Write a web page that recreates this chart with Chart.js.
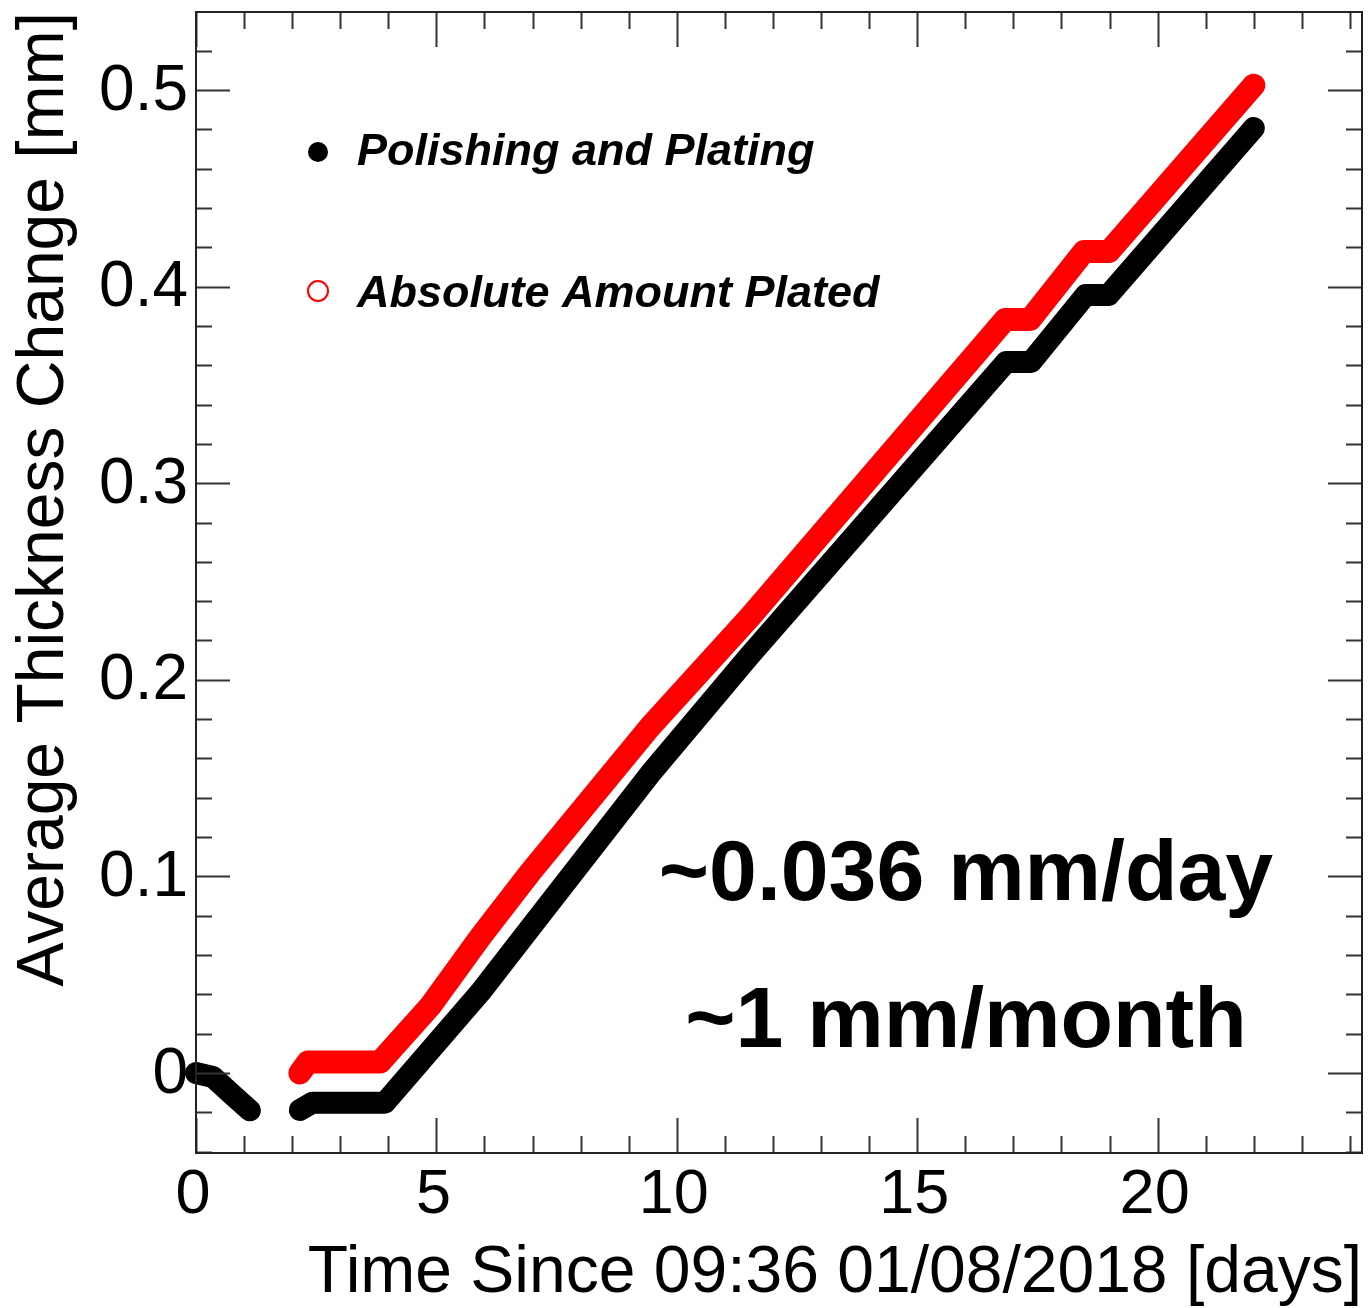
<!DOCTYPE html>
<html>
<head>
<meta charset="utf-8">
<title>Average Thickness Change</title>
<script src="https://cdn.jsdelivr.net/npm/chart.js@4.4.1/dist/chart.umd.min.js"></script>
<style>
  html, body { margin: 0; padding: 0; background: #fff; }
  #wrap { width: 1369px; height: 1308px; position: relative; }
</style>
</head>
<body>
<div id="wrap"><canvas id="plot"></canvas></div>
<script>
// Thickness change vs time

// Polishing and Plating (black, filled markers); null = gap in data
const blackDays   = [0, 0.35, 0.8, 1.12, 1.6, 2.16, 2.42, 3.93, 5.91, 6.95, 9.44, 11.52, 16.85, 17.37, 18.5, 18.98, 22.0];
const blackChange = [0, -0.002, -0.012, -0.019, null, -0.0188, -0.0151, -0.0151, 0.041, 0.0738, 0.152, 0.2125, 0.3617, 0.3617, 0.3957, 0.3957, 0.4807];

// Absolute Amount Plated (red, open markers)
const redDays   = [2.16, 2.33, 3.83, 4.87, 5.91, 6.95, 9.44, 11.52, 16.83, 17.35, 18.47, 18.99, 22.0];
const redChange = [0.0, 0.0056, 0.0056, 0.034, 0.069, 0.102, 0.176, 0.232, 0.3833, 0.3833, 0.4179, 0.4179, 0.5025];

const seriesNames = ['Polishing and Plating', 'Absolute Amount Plated'];

// Axes
const xTickValues = [0, 5, 10, 15, 20];
const xTickLabels = ['0', '5', '10', '15', '20'];
const yTickValues = [0, 0.1, 0.2, 0.3, 0.4, 0.5];
const yTickLabels = ['0', '0.1', '0.2', '0.3', '0.4', '0.5'];
const xTitle = 'Time Since 09:36 01/08/2018 [days]';
const yTitle = 'Average Thickness Change [mm]';

const rateLabels = ['~0.036 mm/day', '~1 mm/month'];

const FONT = "'Liberation Sans', Arial, Helvetica, sans-serif";

function toPoints(xs, ys) {
  return xs.map((v, i) => ({ x: v, y: ys[i] }));
}

// Draws the ROOT-style frame, inward ticks, labels, legend and the rate text
const rootFrame = {
  id: 'rootFrame',
  afterDatasetsDraw(chart) {
    const { ctx, chartArea: a, scales: { x, y } } = chart;
    ctx.save();

    // ticks on all four sides
    ctx.strokeStyle = '#333';
    ctx.lineWidth = 2;
    ctx.beginPath();
    for (let d = 0; d <= Math.floor(x.max); d++) {
      const px = Math.round(x.getPixelForValue(d)) + 0.5;
      const len = d % 5 === 0 ? 35 : 17;
      ctx.moveTo(px, a.bottom); ctx.lineTo(px, a.bottom - len);
      ctx.moveTo(px, a.top); ctx.lineTo(px, a.top + len);
    }
    for (let i = -2; i <= 27; i++) {
      const v = i * 0.02;
      if (v < y.min || v > y.max) continue;
      const py = Math.round(y.getPixelForValue(v)) + 0.5;
      const len = i % 5 === 0 ? 34 : 16;
      ctx.moveTo(a.left, py); ctx.lineTo(a.left + len, py);
      ctx.moveTo(a.right, py); ctx.lineTo(a.right - len, py);
    }
    ctx.stroke();

    // frame
    ctx.strokeStyle = '#222';
    ctx.strokeRect(a.left, a.top, a.right - a.left, a.bottom - a.top);

    // tick labels
    ctx.fillStyle = '#000';
    ctx.font = '63px ' + FONT;
    ctx.textAlign = 'center';
    ctx.textBaseline = 'alphabetic';
    xTickValues.forEach((v, i) => {
      ctx.fillText(xTickLabels[i], x.getPixelForValue(v) - 3, 1213);
    });
    ctx.font = '64px ' + FONT;
    ctx.textAlign = 'right';
    ctx.textBaseline = 'middle';
    yTickValues.forEach((v, i) => {
      ctx.fillText(yTickLabels[i], 188, y.getPixelForValue(v) + 2);
    });

    // axis titles
    ctx.font = '66px ' + FONT;
    ctx.textAlign = 'right';
    ctx.textBaseline = 'alphabetic';
    ctx.fillText(xTitle, 1362, 1292);
    ctx.save();
    ctx.translate(63, 12);
    ctx.rotate(-Math.PI / 2);
    ctx.fillText(yTitle, 0, 0);
    ctx.restore();

    // legend
    ctx.beginPath();
    ctx.arc(318, 152, 10, 0, Math.PI * 2);
    ctx.fillStyle = '#000';
    ctx.fill();
    ctx.beginPath();
    ctx.arc(318, 291, 10, 0, Math.PI * 2);
    ctx.strokeStyle = '#f00';
    ctx.lineWidth = 2;
    ctx.stroke();
    ctx.fillStyle = '#000';
    ctx.font = 'italic bold 45px ' + FONT;
    ctx.textAlign = 'left';
    ctx.fillText(seriesNames[0], 357, 165);
    ctx.fillText(seriesNames[1], 357, 307);

    // rate annotation
    ctx.font = 'bold 86px ' + FONT;
    ctx.textAlign = 'center';
    ctx.fillText(rateLabels[0], 966, 900);
    ctx.fillText(rateLabels[1], 966, 1047);

    ctx.restore();
  }
};

const lineStyle = {
  borderCapStyle: 'round',
  borderJoinStyle: 'round',
  pointRadius: 0,
  tension: 0,
  clip: false,
  spanGaps: false,
};

const chart = new Chart(document.getElementById('plot'), {
  type: 'line',
  data: {
    datasets: [
      {
        ...lineStyle,
        label: seriesNames[0],
        data: toPoints(blackDays, blackChange),
        borderColor: '#000',
        borderWidth: 22,
        order: 3,
      },
      {
        // thin white rim round the red markers, as in the original
        ...lineStyle,
        label: 'rim',
        data: toPoints(redDays, redChange),
        borderColor: '#fff',
        borderWidth: 27,
        order: 2,
      },
      {
        ...lineStyle,
        label: seriesNames[1],
        data: toPoints(redDays, redChange),
        borderColor: '#ff0000',
        borderWidth: 23,
        order: 1,
      },
    ],
  },
  options: {
    responsive: true,
    maintainAspectRatio: false,
    animation: false,
    layout: { padding: { left: 196, right: 7, top: 12, bottom: 155 } },
    plugins: {
      legend: { display: false },
      tooltip: { enabled: false },
    },
    scales: {
      x: { type: 'linear', min: 0, max: 24.25, display: false },
      y: { type: 'linear', min: -0.0407, max: 0.5397, display: false },
    },
  },
  plugins: [rootFrame],
});
</script>
</body>
</html>
